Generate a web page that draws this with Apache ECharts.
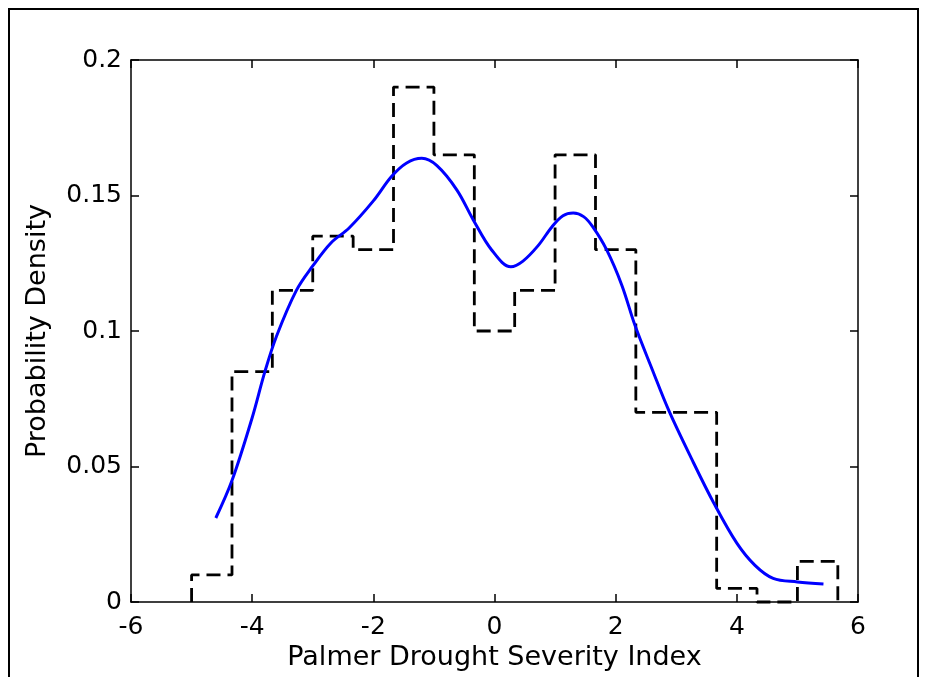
<!DOCTYPE html>
<html>
<head>
<meta charset="utf-8">
<script src="https://cdn.jsdelivr.net/npm/echarts@6/dist/echarts.min.js"></script>
<style>
html,body{margin:0;padding:0;background:#fff;}
#chart{width:937px;height:677px;}
</style>
</head>
<body>
<div id="chart"></div>
<script>
// Histogram (stairs) data
var histEdges = [-5.0, -4.333, -3.667, -3.0, -2.333, -1.667, -1.0, -0.333, 0.333, 1.0, 1.667, 2.333, 3.0, 3.667, 4.333, 5.0, 5.667];
var histHeights = [0.010, 0.085, 0.115, 0.135, 0.130, 0.190, 0.165, 0.100, 0.115, 0.165, 0.130, 0.070, 0.070, 0.005, 0.000, 0.015];

// Kernel density curve
var kdeX = [-4.60, -4.33, -4.0, -3.79, -3.6, -3.27, -3.0, -2.7, -2.4, -2.0, -1.7, -1.45, -1.2, -0.95, -0.62, -0.35, -0.05, 0.27, 0.47, 0.72, 0.95, 1.13, 1.30, 1.47, 1.62, 1.85, 2.1, 2.32, 2.6, 2.88, 3.25, 3.62, 4.0, 4.3, 4.6, 5.0, 5.43];
var kdeY = [0.031, 0.045, 0.068, 0.085, 0.098, 0.115, 0.124, 0.1325, 0.138, 0.148, 0.157, 0.162, 0.1637, 0.161, 0.152, 0.141, 0.130, 0.1237, 0.1258, 0.1315, 0.1385, 0.1425, 0.1435, 0.1422, 0.1385, 0.130, 0.117, 0.102, 0.086, 0.0705, 0.053, 0.0365, 0.0217, 0.0135, 0.0087, 0.0074, 0.0066];

// Axis ticks
var xTicks = {min: -6, max: 6, interval: 2};
var yTicks = {min: 0, max: 0.2, interval: 0.05};

var stairs = [[histEdges[0], 0]];
for (var i = 0; i < histHeights.length; i++) {
  stairs.push([histEdges[i], histHeights[i]]);
  stairs.push([histEdges[i + 1], histHeights[i]]);
}
stairs.push([histEdges[histEdges.length - 1], 0]);

var kde = kdeX.map(function (x, i) { return [x, kdeY[i]]; });

var fontFam = 'DejaVu Sans';
var axisLineStyle = {color: '#000', width: 1.5};

var chart = echarts.init(document.getElementById('chart'), null, {renderer: 'canvas'});
chart.setOption({
  animation: false,
  backgroundColor: '#fff',
  grid: {left: 131, right: 79, top: 60, bottom: 75, containLabel: false},
  graphic: [{
    type: 'rect',
    shape: {x: 9, y: 9, width: 909, height: 720},
    style: {fill: null, stroke: '#000', lineWidth: 2},
    silent: true
  }],
  xAxis: [{
    type: 'value', position: 'bottom',
    min: xTicks.min, max: xTicks.max, interval: xTicks.interval,
    name: 'Palmer Drought Severity Index', nameLocation: 'middle', nameGap: 40,
    nameTextStyle: {fontFamily: fontFam, fontSize: 27, color: '#000'},
    axisLine: {show: true, onZero: false, lineStyle: axisLineStyle},
    axisTick: {show: true, inside: true, length: 8, lineStyle: axisLineStyle},
    axisLabel: {show: true, margin: 13, fontFamily: fontFam, fontSize: 25, color: '#000'},
    splitLine: {show: false}
  }, {
    type: 'value', position: 'top',
    min: xTicks.min, max: xTicks.max, interval: xTicks.interval,
    axisLine: {show: true, onZero: false, lineStyle: axisLineStyle},
    axisTick: {show: true, inside: true, length: 8, lineStyle: axisLineStyle},
    axisLabel: {show: false},
    splitLine: {show: false}
  }],
  yAxis: [{
    type: 'value', position: 'left',
    min: yTicks.min, max: yTicks.max, interval: yTicks.interval,
    name: 'Probability Density', nameLocation: 'middle', nameGap: 80,
    nameTextStyle: {fontFamily: fontFam, fontSize: 27, color: '#000'},
    axisLine: {show: true, onZero: false, lineStyle: axisLineStyle},
    axisTick: {show: true, inside: true, length: 8, lineStyle: axisLineStyle},
    axisLabel: {show: true, margin: 9, fontFamily: fontFam, fontSize: 25, color: '#000'},
    splitLine: {show: false}
  }, {
    type: 'value', position: 'right',
    min: yTicks.min, max: yTicks.max, interval: yTicks.interval,
    axisLine: {show: true, onZero: false, lineStyle: axisLineStyle},
    axisTick: {show: true, inside: true, length: 8, lineStyle: axisLineStyle},
    axisLabel: {show: false},
    splitLine: {show: false}
  }],
  series: [{
    type: 'line', name: 'Histogram',
    xAxisIndex: 0, yAxisIndex: 0,
    data: stairs, symbol: 'none', clip: false,
    lineStyle: {color: '#000', width: 2.8, type: [14, 7]}
  }, {
    type: 'line', name: 'Density',
    xAxisIndex: 0, yAxisIndex: 0,
    data: kde, symbol: 'none', smooth: 0.35,
    lineStyle: {color: '#0000ff', width: 3}
  }]
});
</script>
</body>
</html>
